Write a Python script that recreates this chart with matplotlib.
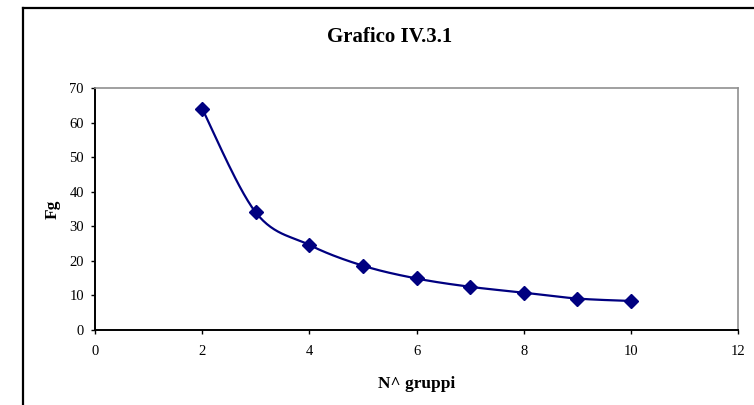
import numpy as np
import matplotlib
matplotlib.use("Agg")
import matplotlib.pyplot as plt
from matplotlib.lines import Line2D

plt.rcParams['font.family'] = ['Liberation Serif', 'DejaVu Serif']

# Number of groups vs Fg
gruppi = [2, 3, 4, 5, 6, 7, 8, 9, 10]
fg = [64.0, 34.0, 24.6, 18.6, 14.9, 12.5, 10.8, 9.1, 8.4]

title = "Grafico IV.3.1"
xlabel = "N^ gruppi"
ylabel = "Fg"
xticks = [0, 2, 4, 6, 8, 10, 12]
yticks = [0, 10, 20, 30, 40, 50, 60, 70]

W, H = 754, 405
fig = plt.figure(figsize=(W / 100, H / 100), dpi=100)
ax = fig.add_axes([95 / W, 1 - 330 / H, (738 - 95) / W, (330 - 88) / H])
ax.set_xlim(0, 12)
ax.set_ylim(0, 70)

navy = "#000080"


def smooth_curve(ax, xs, ys, steps=30):
    """Catmull-Rom style Bezier smoothing computed in display space."""
    pts = ax.transData.transform(np.column_stack([xs, ys]))
    n = len(pts)
    out = []
    for i in range(n - 1):
        p0 = pts[max(i - 1, 0)]
        p1 = pts[i]
        p2 = pts[i + 1]
        p3 = pts[min(i + 2, n - 1)]
        c1 = p1 + (p2 - p0) / 6.0
        c2 = p2 - (p3 - p1) / 6.0
        t = np.linspace(0, 1, steps)[:, None]
        seg = ((1 - t) ** 3) * p1 + 3 * ((1 - t) ** 2) * t * c1 \
            + 3 * (1 - t) * t ** 2 * c2 + t ** 3 * p2
        out.append(seg if i == 0 else seg[1:])
    curve = np.vstack(out)
    return ax.transData.inverted().transform(curve)


curve = smooth_curve(ax, gruppi, fg)
ax.plot(curve[:, 0], curve[:, 1], color=navy, lw=1.6, solid_capstyle='round')
ax.plot(gruppi, fg, linestyle='none', marker='D', color=navy, markersize=7)

ax.set_xticks(xticks)
ax.set_yticks(yticks)
ax.tick_params(direction='out', length=3, width=1, labelsize=10.5,
               colors='black')
ax.tick_params(axis='x', pad=8)
ax.tick_params(axis='y', pad=5)
for s in ('top', 'right'):
    ax.spines[s].set_color('#909090')
    ax.spines[s].set_linewidth(1.2)
for s in ('left', 'bottom'):
    ax.spines[s].set_color('black')
    ax.spines[s].set_linewidth(1.4)

ax.set_xlabel(xlabel, fontsize=12.5, fontweight='bold', labelpad=13)
ax.set_ylabel(ylabel, fontsize=12.5, fontweight='bold', labelpad=6)

fig.text(390 / W, 1 - 37 / H, title, ha='center', va='center',
         fontsize=15, fontweight='bold')

# chart area border
fig.add_artist(Line2D([23 / W, 23 / W], [0, 1 - 8 / H],
                      transform=fig.transFigure, color='black', lw=1.6))
fig.add_artist(Line2D([23 / W, 1], [1 - 8 / H, 1 - 8 / H],
                      transform=fig.transFigure, color='black', lw=1.6))

fig.savefig("out.png", dpi=100)
